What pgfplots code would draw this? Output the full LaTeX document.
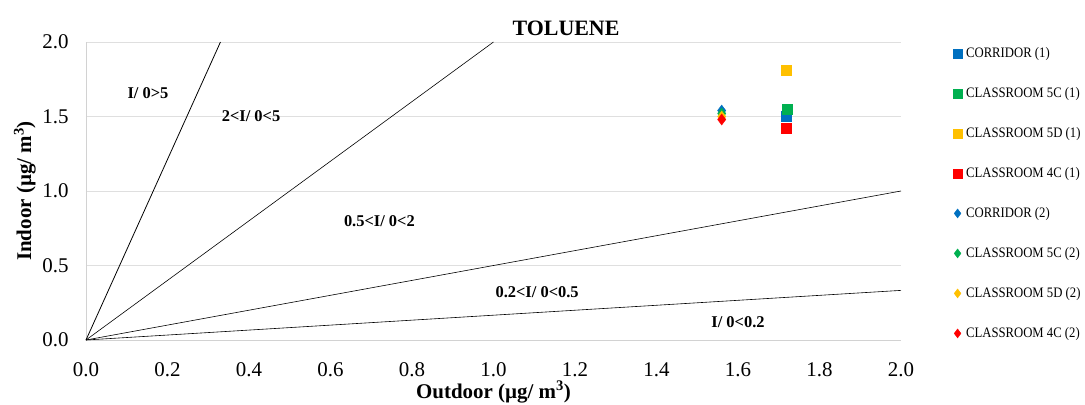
\documentclass[border=0pt]{standalone}
\usepackage{pgfplots}
\pgfplotsset{compat=1.18}
\usepackage{fontspec}
\setmainfont{Liberation Serif}
\newfontfamily\legfont[FakeStretch=0.88]{Liberation Serif}
\definecolor{cblue}{HTML}{0070C0}
\definecolor{cgreen}{HTML}{00B050}
\definecolor{cyellow}{HTML}{FFC000}
\definecolor{cred}{HTML}{FF0000}
\begin{document}
\begin{tikzpicture}
\begin{axis}[
  at={(0,0)}, anchor=south west,
  scale only axis, width=815bp, height=298bp,
  xmin=0, xmax=2, ymin=0, ymax=2,
  xtick={0,0.2,...,2.0}, ytick={0,0.5,...,2.0},
  xticklabel style={yshift=-19bp, /pgf/number format/.cd,fixed,fixed zerofill,precision=1},
  yticklabel style={xshift=-14bp, /pgf/number format/.cd,fixed,fixed zerofill,precision=1},
  /pgf/number format/assume math mode=true,
  tick label style={font=\fontsize{21}{23}\selectfont},
  major tick length=0pt,
  axis x line=bottom, axis y line=left,
  axis line style={gray!35, -},
  ymajorgrids, grid style={gray!25, line width=0.8pt},
  xlabel={\textbf{Outdoor (µg/ m\textsuperscript{3})}},
  ylabel={\textbf{Indoor (µg/ m\textsuperscript{3})}},
  every axis x label/.style={at={(axis description cs:0.5,-0.1745)}, anchor=center, font=\fontsize{21}{23}\selectfont},
  every axis y label/.style={at={(axis description cs:-0.075,0.5)}, rotate=90, anchor=center, font=\fontsize{21}{23}\selectfont},
  title={\textbf{TOLUENE}},
  every axis title/.style={at={(axis description cs:0.589,1.047)}, anchor=center, font=\fontsize{22}{24}\selectfont},
  legend style={at={(rel axis cs:1.06,0.995)}, anchor=north west, draw=none,
    font=\legfont\fontsize{14.5}{15}\selectfont, row sep=24.5bp, legend cell align=left,
    nodes={inner xsep=4bp}},
  legend image post style={mark size=4.5bp},
  clip=false,
]
\addplot[only marks, mark=square*, mark size=5bp, color=cblue] coordinates {(1.718,1.50)};
\addlegendentry{CORRIDOR (1)}
\addplot[only marks, mark=square*, mark size=5bp, color=cgreen] coordinates {(1.72,1.55)};
\addlegendentry{CLASSROOM 5C (1)}
\addplot[only marks, mark=square*, mark size=5bp, color=cyellow] coordinates {(1.718,1.81)};
\addlegendentry{CLASSROOM 5D (1)}
\addplot[only marks, mark=square*, mark size=5bp, color=cred] coordinates {(1.718,1.42)};
\addlegendentry{CLASSROOM 4C (1)}
\addplot[only marks, mark=diamond*, mark size=5.5bp, color=cblue] coordinates {(1.56,1.54)};
\addlegendentry{CORRIDOR (2)}
\addplot[only marks, mark=diamond*, mark size=5.5bp, color=cgreen] coordinates {(1.56,1.52)};
\addlegendentry{CLASSROOM 5C (2)}
\addplot[only marks, mark=diamond*, mark size=5.5bp, color=cyellow] coordinates {(1.56,1.50)};
\addlegendentry{CLASSROOM 5D (2)}
\addplot[only marks, mark=diamond*, mark size=5.5bp, color=cred] coordinates {(1.56,1.48)};
\addlegendentry{CLASSROOM 4C (2)}
\addplot[black, line width=0.8pt, forget plot] coordinates {(0,0) (0.33,2)};
\addplot[black, line width=0.6pt, forget plot] coordinates {(0,0) (1.0,2)};
\addplot[black, line width=0.6pt, forget plot] coordinates {(0,0) (2.0,1.0)};
\addplot[black, line width=0.6pt, forget plot] coordinates {(0,0) (2.0,0.333)};
\node[font=\bfseries\fontsize{16.5}{18}\selectfont] at (axis cs:0.152,1.66) {I/ 0>5};
\node[font=\bfseries\fontsize{16.5}{18}\selectfont] at (axis cs:0.405,1.50) {2<I/ 0<5};
\node[font=\bfseries\fontsize{16.5}{18}\selectfont] at (axis cs:0.72,0.80) {0.5<I/ 0<2};
\node[font=\bfseries\fontsize{16.5}{18}\selectfont] at (axis cs:1.107,0.32) {0.2<I/ 0<0.5};
\node[font=\bfseries\fontsize{16.5}{18}\selectfont] at (axis cs:1.60,0.12) {I/ 0<0.2};
\end{axis}
\pgfresetboundingbox
\path (-86bp,-65bp) rectangle (999bp,340bp);
\end{tikzpicture}
\end{document}
